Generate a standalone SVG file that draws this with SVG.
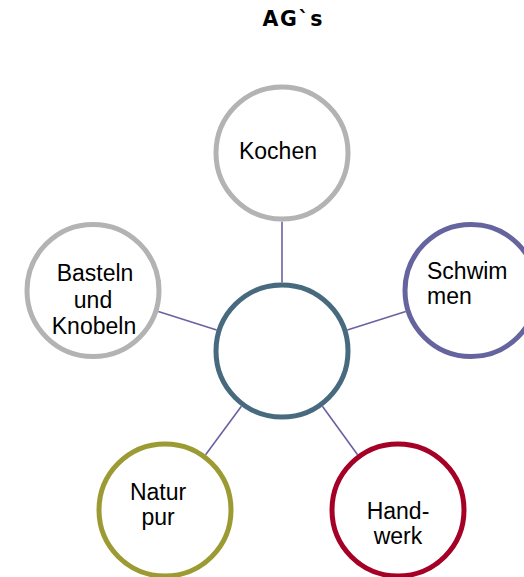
<svg xmlns="http://www.w3.org/2000/svg" width="524" height="577" viewBox="0 0 524 577">
<style>
.bg{fill:#ffffff}
.conn line{stroke:#6962a2;stroke-width:1.6;fill:none}
.ring{fill:#ffffff;stroke-width:5}
.lbl{font-family:"Liberation Sans",Arial,sans-serif;font-size:23px;fill:#000000}
.title{font-family:"DejaVu Sans",Verdana,sans-serif;font-size:20.5px;font-weight:bold;fill:#000000}
</style>
<rect class="bg" x="0" y="0" width="524" height="577"/>
<text class="title" x="292.5" y="26" text-anchor="middle" textLength="60" lengthAdjust="spacing">AG`s</text>
<g id="connectors" class="conn">
<line x1="282" y1="282.5" x2="282" y2="221.5"/>
<line x1="347.3" y1="330.1" x2="405.7" y2="311.4"/>
<line x1="216.7" y1="330.1" x2="158.3" y2="311.4"/>
<line x1="241.4" y1="406.2" x2="205.6" y2="454.8"/>
<line x1="322.4" y1="406.3" x2="357.6" y2="454.7"/>
</g>
<g id="center">
<circle class="ring" cx="282" cy="351" r="66" stroke="#476a7e"/>
</g>
<g id="kochen">
<circle class="ring" cx="282" cy="153" r="66" stroke="#b3b3b3"/>
<text class="lbl" x="278" y="158.5" text-anchor="middle">Kochen</text>
</g>
<g id="schwimmen">
<circle class="ring" cx="471" cy="290.5" r="66" stroke="#66649e"/>
<text class="lbl" x="427" y="278.5">Schwim</text>
<text class="lbl" x="427" y="303.5">men</text>
</g>
<g id="basteln">
<circle class="ring" cx="93" cy="290.5" r="66" stroke="#b3b3b3"/>
<text class="lbl" x="95" y="281" text-anchor="middle">Basteln</text>
<text class="lbl" x="93" y="307.5" text-anchor="middle">und</text>
<text class="lbl" x="94" y="334" text-anchor="middle">Knobeln</text>
</g>
<g id="natur">
<circle class="ring" cx="165" cy="510" r="66" stroke="#9c9b33"/>
<text class="lbl" x="158" y="500" text-anchor="middle">Natur</text>
<text class="lbl" x="158" y="525" text-anchor="middle">pur</text>
</g>
<g id="handwerk">
<circle class="ring" cx="398" cy="510" r="66" stroke="#a50026"/>
<text class="lbl" x="398" y="518.5" text-anchor="middle">Hand-</text>
<text class="lbl" x="398" y="544" text-anchor="middle">werk</text>
</g>
</svg>
